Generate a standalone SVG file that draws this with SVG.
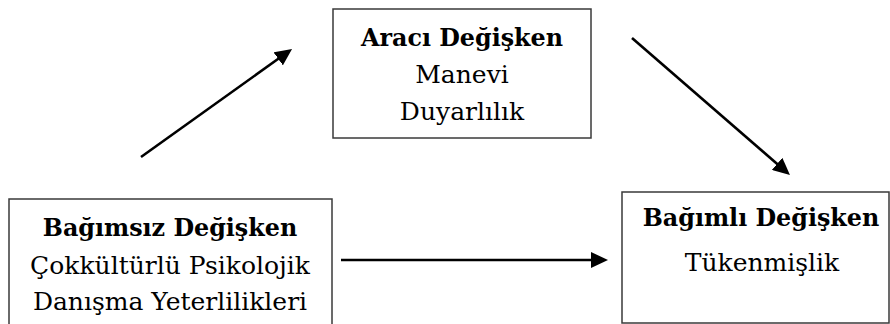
<svg xmlns="http://www.w3.org/2000/svg" width="890" height="324" viewBox="0 0 890 324">
<style>
.box{fill:#fff;stroke:#3a3a3a;stroke-width:1.5}
.t{font-family:"DejaVu Serif","Liberation Serif",serif;font-size:25px;fill:#000;text-anchor:middle}
.b{font-weight:bold;font-size:23.8px}
.c{stroke:#000;stroke-width:2.6;fill:none}
</style>
<defs>
<marker id="ah" viewBox="0 0 17 16" refX="7" refY="8" markerWidth="17" markerHeight="16" markerUnits="userSpaceOnUse" orient="auto">
<path d="M0,0 L17,8 L0,16 z" fill="#000"/>
</marker>
</defs>
<rect width="890" height="324" fill="#fff"/>
<g id="mediator">
<rect class="box" x="333" y="9" width="258" height="129"/>
<text class="t b" x="462" y="46">Aracı Değişken</text>
<text class="t" x="462" y="83">Manevi</text>
<text class="t" x="462" y="120">Duyarlılık</text>
</g>
<g id="independent">
<rect class="box" x="9" y="199" width="323" height="140"/>
<text class="t b" x="170" y="236">Bağımsız Değişken</text>
<text class="t" x="170" y="274">Çokkültürlü Psikolojik</text>
<text class="t" x="170" y="310">Danışma Yeterlilikleri</text>
</g>
<g id="dependent">
<rect class="box" x="622" y="192" width="267" height="131"/>
<text class="t b" x="761" y="226">Bağımlı Değişken</text>
<text class="t" x="762" y="271">Tükenmişlik</text>
</g>
<g id="connectors">
<line class="c" x1="141" y1="157" x2="283.9" y2="54.8" marker-end="url(#ah)"/>
<line class="c" x1="632" y1="38" x2="782.4" y2="168.4" marker-end="url(#ah)"/>
<line class="c" x1="341" y1="260" x2="598" y2="260" marker-end="url(#ah)"/>
</g>
</svg>
